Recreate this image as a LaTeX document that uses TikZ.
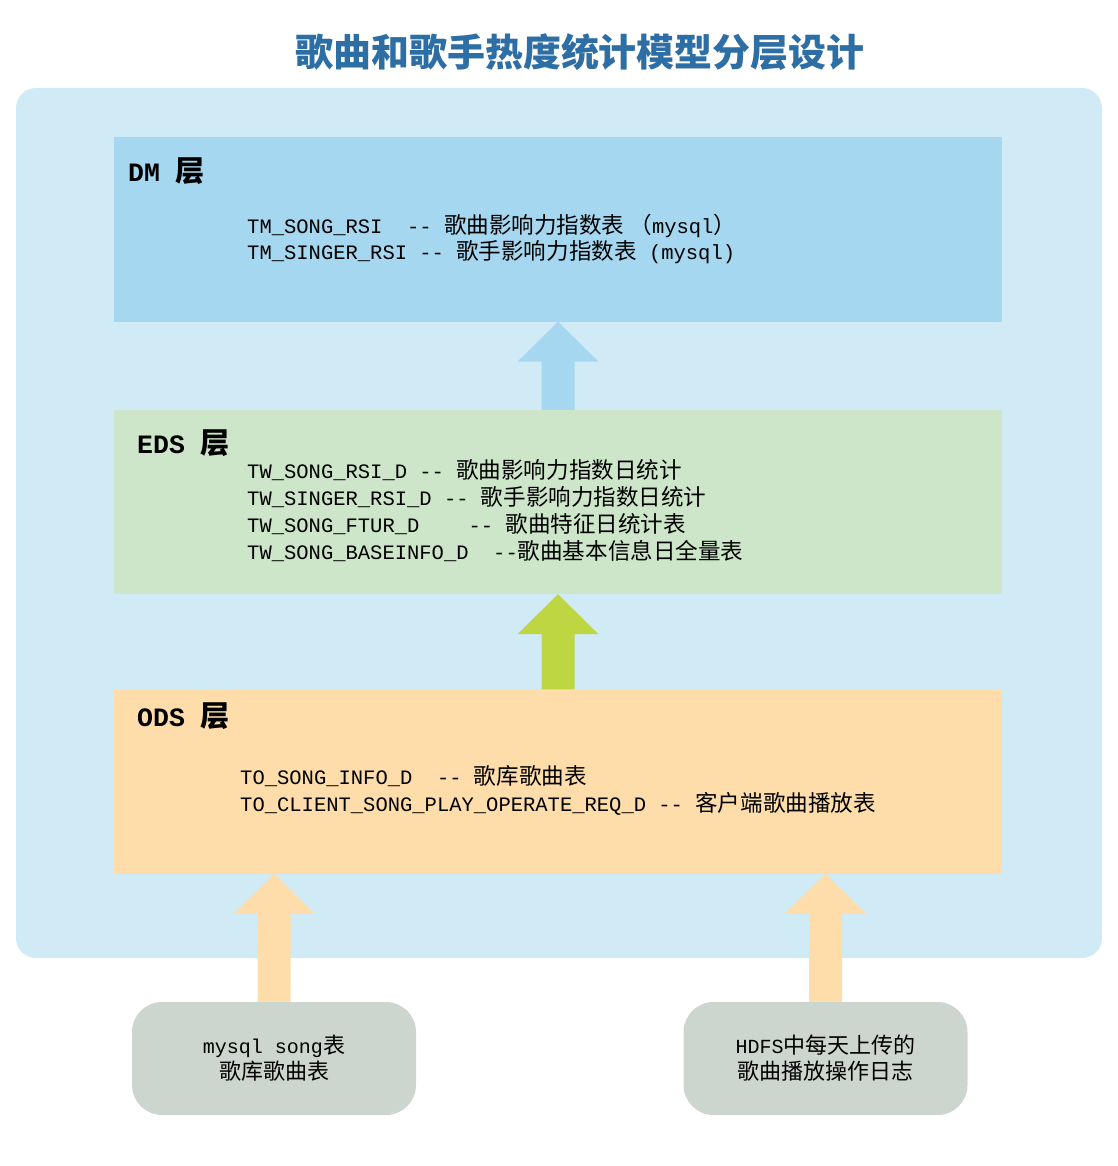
\documentclass[tikz,border=0pt]{standalone}
\usepackage{fontspec}
\setmonofont{Liberation Mono}
\newfontfamily\cjk[Scale=1.1]{Noto Sans CJK SC}
\usetikzlibrary{calc}

\definecolor{frameBlue}{RGB}{208,235,246}
\definecolor{dmBlue}{RGB}{165,216,240}
\definecolor{edsGreen}{RGB}{205,230,201}
\definecolor{odsOrange}{RGB}{254,221,170}
\definecolor{arrowGreen}{RGB}{190,214,66}
\definecolor{srcGray}{RGB}{204,214,207}
\definecolor{titleBlue}{RGB}{45,110,165}

\newcommand\zh[1]{{\cjk #1}}
% block arrow: tip, foot, colour
\newcommand\upArrow[3]{\fill[#3] (#1) -- ++(40.5,40) -- ++(-24,0) |- (#2) -- ++(-16.5,0) |- ($(#1)+(-40.5,40)$) -- cycle;}

\begin{document}
\begin{tikzpicture}[x=1pt, y=-1pt]
	\tikzstyle{layerStyle}=[inner sep = 0pt, minimum width = 888pt, minimum height = 184pt]
	\tikzstyle{srcStyle}=[fill = srcGray, rounded corners = 30pt, inner sep = 0pt, minimum width = 284pt, minimum height = 113pt, align = center, font = \ttfamily\fontsize{20}{26}\selectfont]
	\tikzstyle{headStyle}=[anchor = base west, inner sep = 0pt, font = \ttfamily\bfseries\fontsize{26.5}{30}\selectfont]
	\tikzstyle{lineStyle}=[anchor = base west, inner sep = 0pt, font = \ttfamily\fontsize{20.5}{27}\selectfont]
	\useasboundingbox (0,0) rectangle (1117,1166);
	\node[font = \cjk\bfseries\fontsize{34.5}{40}\selectfont, text = titleBlue] (title) at (580,52) {歌曲和歌手热度统计模型分层设计};
	\node[fill = frameBlue, rounded corners = 20pt, inner sep = 0pt, minimum width = 1086pt, minimum height = 870pt] (frame) at (559,523) {};
	\node[layerStyle, fill = dmBlue] (dm) at (558,229.5) {};
	\node[layerStyle, fill = edsGreen] (eds) at (558,502) {};
	\node[layerStyle, fill = odsOrange] (ods) at (558,781.5) {};
	\node[srcStyle] (srcMysql) at (274,1058.5) {mysql song\zh{表}\\\zh{歌库歌曲表}};
	\node[srcStyle] (srcHdfs) at (825.5,1058.5) {HDFS\zh{中每天上传的}\\\zh{歌曲播放操作日志}};
	% layer texts
	\node[headStyle] (dmHead) at (128,182) {DM \zh{层}};
	\node[lineStyle] (dm1) at (247,233.5) {TM\_SONG\_RSI\ \ -- \zh{歌曲影响力指数表\ （}mysql\zh{）}};
	\node[lineStyle] (dm2) at (247,259.5) {TM\_SINGER\_RSI -- \zh{歌手影响力指数表} (mysql)};
	\node[headStyle] (edsHead) at (137,453) {EDS \zh{层}};
	\node[lineStyle] (eds1) at (247,478.5) {TW\_SONG\_RSI\_D -- \zh{歌曲影响力指数日统计}};
	\node[lineStyle] (eds2) at (247,505.5) {TW\_SINGER\_RSI\_D -- \zh{歌手影响力指数日统计}};
	\node[lineStyle] (eds3) at (247,532.5) {TW\_SONG\_FTUR\_D\ \ \ \ -- \zh{歌曲特征日统计表}};
	\node[lineStyle] (eds4) at (247,559.5) {TW\_SONG\_BASEINFO\_D\ \ --\zh{歌曲基本信息日全量表}};
	\node[headStyle] (odsHead) at (137,726) {ODS \zh{层}};
	\node[lineStyle] (ods1) at (240,784.5) {TO\_SONG\_INFO\_D\ \ -- \zh{歌库歌曲表}};
	\node[lineStyle] (ods2) at (240,811.5) {TO\_CLIENT\_SONG\_PLAY\_OPERATE\_REQ\_D -- \zh{客户端歌曲播放表}};
	% arrows
	\coordinate (tipMysql) at (ods.south -| srcMysql.north);
	\coordinate (tipHdfs) at (ods.south -| srcHdfs.north);
	\upArrow{dm.south}{eds.north}{dmBlue}
	\upArrow{eds.south}{ods.north}{arrowGreen}
	\upArrow{tipMysql}{srcMysql.north}{odsOrange}
	\upArrow{tipHdfs}{srcHdfs.north}{odsOrange}
\end{tikzpicture}
\end{document}
